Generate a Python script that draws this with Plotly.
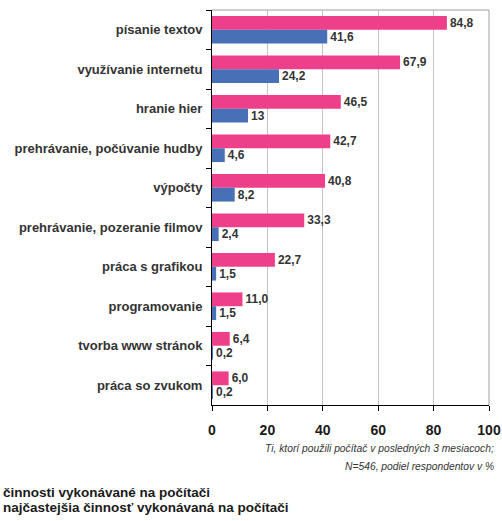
import plotly.graph_objects as go

categories = ["písanie textov", "využívanie internetu", "hranie hier",
              "prehrávanie, počúvanie hudby", "výpočty",
              "prehrávanie, pozeranie filmov", "práca s grafikou",
              "programovanie", "tvorba www stránok", "práca so zvukom"]
all_vals = [84.8, 67.9, 46.5, 42.7, 40.8, 33.3, 22.7, 11.0, 6.4, 6.0]
top_vals = [41.6, 24.2, 13, 4.6, 8.2, 2.4, 1.5, 1.5, 0.2, 0.2]
all_labels = ["84,8", "67,9", "46,5", "42,7", "40,8", "33,3", "22,7", "11,0", "6,4", "6,0"]
top_labels = ["41,6", "24,2", "13", "4,6", "8,2", "2,4", "1,5", "1,5", "0,2", "0,2"]
x_ticks = [0, 20, 40, 60, 80, 100]
series_names = ["činnosti vykonávané na počítači", "najčastejšia činnosť vykonávaná na počítači"]
note_lines = ["Ti, ktorí použili počítač v posledných 3 mesiacoch;", "N=546, podiel respondentov v %"]

PINK = "#EE3F8B"
BLUE = "#4770B7"
TXT = "#333333"
FONT = "Liberation Sans, Arial, sans-serif"

L, R, T, B = 212, 13, 10, 116
W, H = 502, 521
PW = W - L - R
PH = H - T - B

def px_x(px):
    return (px - L) / PW

def px_y(py):
    return (H - B - py) / PH

fig = go.Figure()
fig.add_trace(go.Bar(y=categories, x=all_vals, orientation="h", name=series_names[0],
                     marker=dict(color=PINK, line=dict(width=0)), text=all_labels,
                     textposition="outside", cliponaxis=False,
                     textfont=dict(family=FONT, size=13, color=TXT, weight="bold")))
fig.add_trace(go.Bar(y=categories, x=top_vals, orientation="h", name=series_names[1],
                     marker=dict(color=BLUE, line=dict(width=0)), text=top_labels,
                     textposition="outside", cliponaxis=False,
                     textfont=dict(family=FONT, size=13, color=TXT, weight="bold")))

annotations = []
for i, line in enumerate(note_lines):
    annotations.append(dict(text="<i>" + line + "</i>", xref="paper", yref="paper",
                            x=px_x(496), y=px_y(449 + 17 * i), xanchor="right", yanchor="middle",
                            showarrow=False, font=dict(family=FONT, size=10.3, color=TXT)))
for i, name in enumerate(series_names):
    annotations.append(dict(text="<b>" + name + "</b>", xref="paper", yref="paper",
                            x=px_x(1), y=px_y(492 + 15 * i),
                            xanchor="left", yanchor="middle",
                            showarrow=False, font=dict(family=FONT, size=13.5, color="#1a1a1a")))

fig.update_layout(
    width=W, height=H,
    margin=dict(l=L, r=R, t=T, b=B, autoexpand=False),
    paper_bgcolor="white", plot_bgcolor="white",
    barmode="group", bargap=0.3, bargroupgap=0,
    font=dict(family=FONT, color=TXT),
    showlegend=False,
    xaxis=dict(range=[0, 100], tickvals=x_ticks, ticktext=[str(v) for v in x_ticks],
               showgrid=True, gridcolor="#C4C4C4", gridwidth=1, zeroline=False,
               showline=True, linecolor="black", linewidth=1,
               ticks="outside", ticklen=5, tickcolor="black", ticklabelstandoff=7,
               tickfont=dict(family=FONT, size=14, color="#1a1a1a", weight="bold")),
    yaxis=dict(categoryorder="array", categoryarray=categories, autorange="reversed",
               showline=True, linecolor="black", linewidth=1,
               ticks="outside", ticklen=5, tickcolor="black", tickson="boundaries",
               ticklabelstandoff=6, showgrid=False,
               tickfont=dict(family=FONT, size=13, color=TXT, weight="bold")),
    shapes=[
        dict(type="line", xref="paper", yref="paper", x0=0, x1=1, y0=1, y1=1,
             line=dict(color="#A0A0A0", width=1)),
        dict(type="line", xref="paper", yref="paper", x0=1, x1=1, y0=0, y1=1,
             line=dict(color="#A0A0A0", width=1)),
    ],
    annotations=annotations,
)

fig.write_html("out.html", config={"displayModeBar": False},
               post_script="document.body.style.margin='0px';document.body.style.overflow='hidden';")
